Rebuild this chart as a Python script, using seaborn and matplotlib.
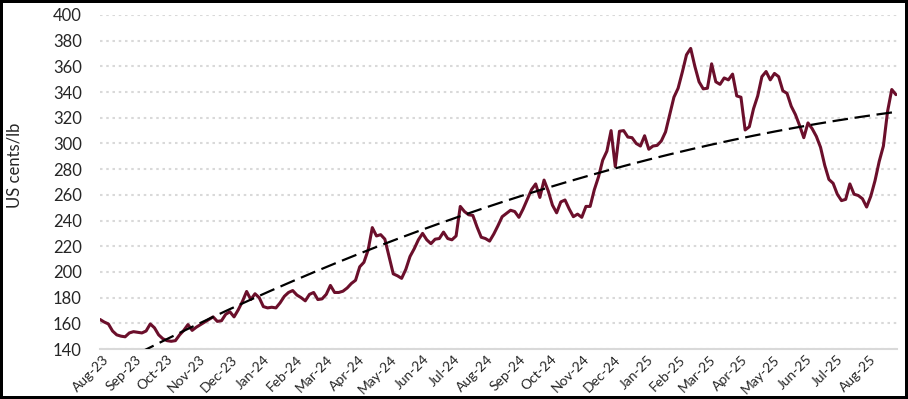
import numpy as np
import pandas as pd
import matplotlib
matplotlib.use("Agg")
import matplotlib.pyplot as plt
import matplotlib.dates as mdates
import matplotlib.transforms as mtransforms
import seaborn as sns

start_date = "2023-08-01"
end_date = "2025-08-29"
prices = [
    163, 161, 159.5, 154, 151, 150, 149.5, 152.5, 153.5, 153,
    152.5, 154, 159.5, 156.5, 151, 148, 146.5, 146, 146.5, 151,
    154.5, 159, 154.5, 157, 159, 161, 163, 165, 161.5, 162,
    167, 169, 165, 170.5, 177, 184.8, 178.5, 183, 180, 173,
    172, 172.5, 172, 176, 181, 184, 185.5, 182, 180, 177.5,
    182.5, 184, 178.5, 179, 182.5, 189.5, 184, 184, 185, 187.5,
    191, 193.5, 204, 207.5, 217, 234.5, 228, 229, 225.5, 212,
    198.5, 197, 195, 202, 212, 218, 225, 230, 225, 222,
    225.5, 226, 231, 226, 225, 228, 251, 247, 244.5, 244,
    235, 227, 226, 224, 229.5, 236, 243, 245.5, 248, 247,
    242.5, 249, 256.5, 264, 268.5, 258, 271.5, 263, 252, 246,
    254.5, 256, 249, 243, 245, 242.5, 251, 251, 264, 274,
    287, 294, 310, 282, 309.5, 310, 305, 304.5, 300, 298,
    306, 295.5, 298, 298.5, 302, 309, 322.5, 336, 343, 355.5,
    369, 374, 360, 348, 342.5, 343, 362, 348, 346, 351,
    349.5, 354, 337, 336, 310.5, 313, 327, 337, 352, 356,
    349.5, 354.5, 352, 341, 339, 329, 322.5, 314, 304.5, 316,
    311.5, 305.5, 297, 283, 272, 269, 260.5, 255.5, 256.5, 268.5,
    260.5, 259.5, 257, 250.5, 259, 271, 286, 298, 325, 342,
    338,
]
y_ticks = list(range(140, 401, 20))
y_label = "US cents/lb"

dates = pd.date_range(start_date, end_date, periods=len(prices))
df = pd.DataFrame({"date": dates, "price": prices})

# polynomial (order 2) trendline, like the Excel one
days = (df["date"] - df["date"].iloc[0]).dt.days.values
coef = np.polyfit(days, df["price"].values, 2)
df["trend"] = np.polyval(coef, days)

sns.set_style("white")
plt.rcParams["font.family"] = ["Lato", "DejaVu Sans"]

fig = plt.figure(figsize=(9.08, 3.99), dpi=100)
fig.patch.set_edgecolor("black")
fig.patch.set_linewidth(3)
ax = fig.add_axes([100 / 908, 50 / 399, 797 / 908, 334 / 399])

sns.lineplot(data=df, x="date", y="trend", ax=ax, color="black",
             linewidth=1.6, linestyle=(0, (7, 3)), zorder=3)
sns.lineplot(data=df, x="date", y="price", ax=ax, color="#6b0f2b",
             linewidth=2.2, zorder=2)

ax.set_ylim(140, 400)
ax.set_xlim(pd.Timestamp("2023-08-01"), pd.Timestamp("2025-08-30"))
ax.set_yticks(y_ticks)
ax.xaxis.set_major_locator(mdates.MonthLocator())
ax.xaxis.set_major_formatter(mdates.DateFormatter("%b-%y"))

ax.grid(axis="y", color="#d9d9d9", linestyle=(0, (1.2, 1.8)), linewidth=1.5)
ax.grid(axis="x", visible=False)
for s in ["top", "right", "left"]:
    ax.spines[s].set_visible(False)
ax.spines["bottom"].set_color("#d9d9d9")
ax.spines["bottom"].set_linewidth(1.5)

ax.tick_params(axis="y", length=0, pad=13, labelsize=12)
ax.tick_params(axis="x", length=0, pad=3, labelsize=10)
plt.setp(ax.get_xticklabels(), rotation=45, ha="right", rotation_mode="anchor")
offset = mtransforms.ScaledTranslation(2 / 72, 0, fig.dpi_scale_trans)
for lbl in ax.get_xticklabels():
    lbl.set_transform(lbl.get_transform() + offset)

ax.set_xlabel("")
ax.set_ylabel(y_label, fontsize=12)
ax.yaxis.set_label_coords(-0.097, 0.55)

fig.savefig("out.png", dpi=100)
